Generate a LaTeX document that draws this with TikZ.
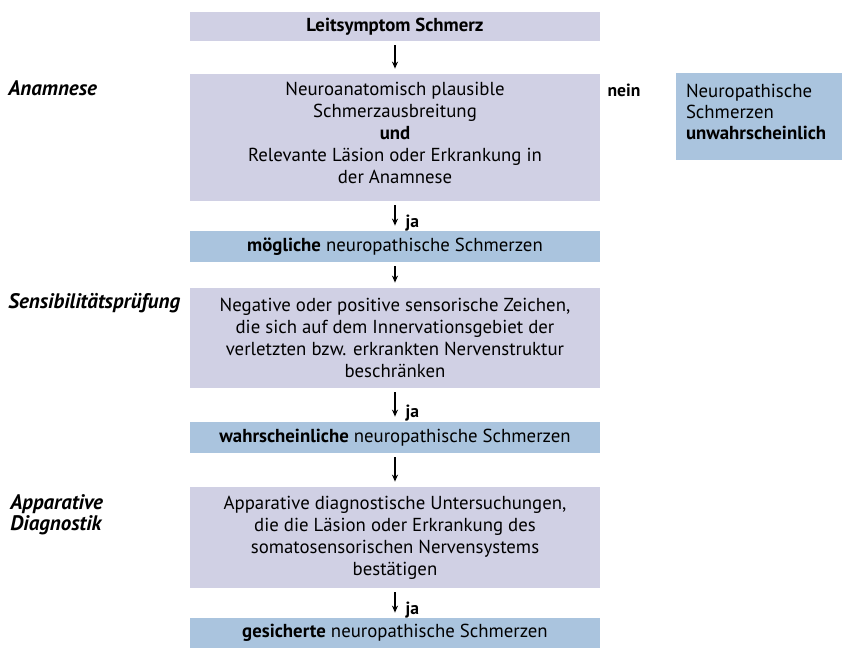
\documentclass[tikz,border=0pt]{standalone}
\usepackage{fontspec}
\setmainfont{PT Sans}
\usetikzlibrary{arrows.meta}
\definecolor{boxgrau}{RGB}{208,208,228}
\definecolor{boxblau}{RGB}{170,196,222}
\tikzset{
  frage/.style={fill=boxgrau, minimum width=205pt, inner sep=0pt, align=center, font=\fontsize{9.4}{11}\selectfont},
  befund/.style={fill=boxblau, minimum width=205pt, minimum height=15.5pt, inner sep=0pt, font=\fontsize{9.4}{11}\selectfont},
  stufe/.style={anchor=west, align=left, inner sep=0pt, font=\fontsize{10.5}{9}\selectfont\bfseries\itshape},
  antwort/.style={inner sep=0pt, font=\fontsize{8.8}{9}\selectfont\bfseries},
  pfeil/.style={-{Stealth[length=3.5pt,width=3pt]}, line width=0.6pt, shorten <=2pt, shorten >=2.5pt}
}
\begin{document}
\begin{tikzpicture}[x=0.5pt,y=-0.5pt]
    \useasboundingbox (0,0) rectangle (842,650);
    \node[frage, minimum height=14.5pt, font=\fontsize{9.4}{11}\selectfont\bfseries] (leit) at (395,26.5) {Leitsymptom Schmerz};
    \node[frage, minimum height=63.5pt] (anam) at (395,137.5) {Neuroanatomisch plausible\\Schmerzausbreitung\\\textbf{und}\\Relevante Läsion oder Erkrankung in\\der Anamnese\\[-6pt]\mbox{}};
    \node[befund] (moegl) at (395,246.5) {\textbf{mögliche} neuropathische Schmerzen};
    \node[frage, minimum height=50pt] (sens) at (395,338) {Negative oder positive sensorische Zeichen,\\die sich auf dem Innervationsgebiet der\\verletzten bzw. erkrankten Nervenstruktur\\beschränken};
    \node[befund] (wahr) at (395,437.5) {\textbf{wahrscheinliche} neuropathische Schmerzen};
    \node[frage, minimum height=50.5pt] (appa) at (395,537.5) {Apparative diagnostische Untersuchungen,\\die die Läsion oder Erkrankung des\\somatosensorischen Nervensystems\\bestätigen};
    \node[befund, minimum height=15pt] (gesi) at (395,633) {\textbf{gesicherte} neuropathische Schmerzen};
    \node[befund, minimum width=83pt, minimum height=43.5pt, text width=73pt, inner xsep=5pt, align=left, font=\fontsize{9.4}{10.5}\selectfont] (unwahr) at (759,116.5) {Neuropathische\\Schmerzen\\\textbf{unwahrscheinlich}\\[-6pt]\mbox{}};

    \node[stufe] (lanam) at (8,88) {Anamnese};
    \node[stufe] (lsens) at (8,303) {Sensibilitätsprüfung};
    \node[stufe, anchor=north west] (lappa) at (10,494) {Apparative\\Diagnostik};
    \node[antwort] (nein) at (624,90) {nein};

    \draw[pfeil] (leit) -- (anam);
    \draw[pfeil] (anam) -- node[antwort, pos=0.75, anchor=west, xshift=5pt] (ja1) {ja} (moegl);
    \draw[pfeil] (moegl) -- (sens);
    \draw[pfeil] (sens) -- node[antwort, pos=0.75, anchor=west, xshift=5pt] (ja2) {ja} (wahr);
    \draw[pfeil] (wahr) -- (appa);
    \draw[pfeil] (appa) -- node[antwort, pos=0.75, anchor=west, xshift=5pt] (ja3) {ja} (gesi);
\end{tikzpicture}
\end{document}
